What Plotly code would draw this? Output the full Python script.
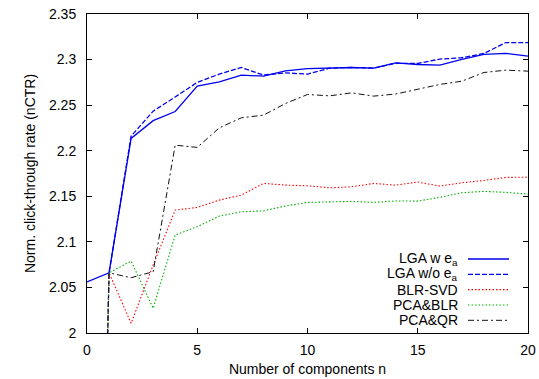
import plotly.graph_objects as go

n = list(range(0, 21))

lga_w = [2.056, 2.066, 2.2135, 2.233, 2.243, 2.271, 2.2756, 2.283, 2.2818, 2.2876, 2.290,
         2.2906, 2.2913, 2.2906, 2.2963, 2.2946, 2.2939, 2.3001, 2.3056, 2.3067, 2.3037]
lga_wo = [1.0, 2.066, 2.216, 2.2434, 2.259, 2.275, 2.284, 2.2913, 2.283, 2.2854, 2.284,
          2.2906, 2.2913, 2.2906, 2.296, 2.2957, 2.3005, 2.302, 2.3067, 2.3187, 2.3187]
blr_svd = [1.0, 2.066, 2.0106, 2.0746, 2.1349, 2.1378, 2.1458, 2.1513, 2.1641, 2.1623, 2.1615,
           2.1593, 2.1604, 2.1641, 2.1622, 2.1656, 2.1612, 2.1648, 2.1674, 2.1707, 2.171]
pca_blr = [1.0, 2.066, 2.0789, 2.0271, 2.1075, 2.1166, 2.1283, 2.133, 2.134, 2.1393, 2.1433,
           2.1436, 2.1444, 2.1433, 2.1449, 2.1447, 2.1488, 2.1539, 2.1554, 2.1543, 2.1524]
pca_qr = [1.0, 2.066, 2.0607, 2.0672, 2.2061, 2.2036, 2.2251, 2.2361, 2.239, 2.2518, 2.2617,
          2.2602, 2.2635, 2.2599, 2.2622, 2.2672, 2.2727, 2.2763, 2.2858, 2.2884, 2.2873]

names = ["LGA w e<sub>a</sub>", "LGA w/o e<sub>a</sub>", "BLR-SVD", "PCA&amp;BLR", "PCA&amp;QR"]
series = [lga_w, lga_wo, blr_svd, pca_blr, pca_qr]
colors = ["#0000ee", "#0000ee", "#ff0000", "#00b000", "#111111"]
dashes = ["solid", "5px,2px", "1.5px,2px", "1.5px,2px", "6px,3px,2px,3px"]
widths = [1.3, 1.3, 1.1, 1.1, 1.0]

xticks = [0, 5, 10, 15, 20]
yticks = [2, 2.05, 2.1, 2.15, 2.2, 2.25, 2.3, 2.35]
yticktext = ["2", "2.05", "2.1", "2.15", "2.2", "2.25", "2.3", "2.35"]

FONT = "Liberation Sans, Arial, sans-serif"

fig = go.Figure()
for s, c, d, w, nm in zip(series, colors, dashes, widths, names):
    fig.add_trace(go.Scatter(x=n, y=s, mode="lines", name=nm,
                             line=dict(color=c, dash=d, width=w), showlegend=False))

# manual gnuplot-style legend (text right, sample on the right)
W, H = 441.0, 319.0
def px(x):
    return (x - 87.0) / W
def py(y):
    return (333.0 - y) / H
rows = [259, 274.3, 289.6, 305, 320.3]
for nm, c, d, w, r in zip(names, colors, dashes, widths, rows):
    fig.add_annotation(x=px(460), y=py(r), xref="paper", yref="paper", text=nm,
                       showarrow=False, xanchor="right", yanchor="middle",
                       font=dict(family=FONT, size=14, color="black"))
    fig.add_shape(type="line", xref="paper", yref="paper", x0=px(468), x1=px(509),
                  y0=py(r), y1=py(r), line=dict(color=c, dash=d, width=w))

axis_common = dict(showline=True, linecolor="black", linewidth=1, mirror="allticks",
                   ticks="inside", ticklen=5, tickcolor="black", tickwidth=1,
                   showgrid=False, zeroline=False,
                   tickfont=dict(family=FONT, size=14, color="black"))

fig.update_xaxes(range=[0, 20], tickvals=xticks, ticklabelstandoff=4,
                 title=dict(text="Number of components n", standoff=7,
                            font=dict(family=FONT, size=14, color="black")),
                 **axis_common)
fig.update_yaxes(range=[2, 2.35], tickvals=yticks, ticktext=yticktext, ticklabelstandoff=7,
                 title=dict(text="Norm. click-through rate (nCTR)", standoff=10,
                            font=dict(family=FONT, size=14, color="black")),
                 **axis_common)

fig.update_layout(width=539, height=379, autosize=False,
                  margin=dict(l=87, r=11, t=14, b=46, autoexpand=False),
                  paper_bgcolor="white", plot_bgcolor="white",
                  font=dict(family=FONT, size=14, color="black"))

fig.write_html("out.html", config={"displayModeBar": False},
               post_script="document.body.style.margin='0';document.body.style.padding='0';")
